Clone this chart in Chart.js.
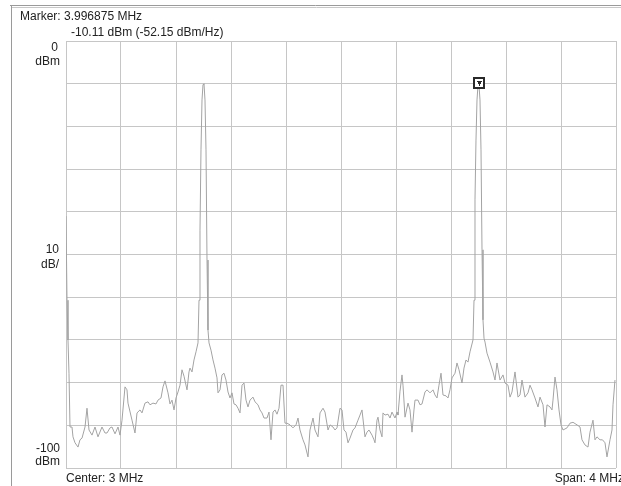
<!DOCTYPE html>
<html>
<head>
<meta charset="utf-8">
<script src="https://cdn.jsdelivr.net/npm/chart.js@4.4.1/dist/chart.umd.min.js"></script>
<style>
  html, body { margin: 0; padding: 0; background: #ffffff; }
  canvas { display: block; }
</style>
</head>
<body>
<canvas id="spectrum" width="621" height="486"></canvas>
<script>
// trace: frequency in MHz, level in dBm
const freqMHz = [
  1.0000, 1.0073, 1.0145, 1.0218, 1.0291, 1.0436, 1.0509, 1.0655, 1.0873, 1.1018,
  1.1164, 1.1382, 1.1527, 1.1673, 1.1891, 1.2109, 1.2327, 1.2618, 1.2836, 1.2982,
  1.3200, 1.3345, 1.3564, 1.3782, 1.3927, 1.4073, 1.4291, 1.4436, 1.4509, 1.4800,
  1.5018, 1.5164, 1.5382, 1.5527, 1.5745, 1.5964, 1.6109, 1.6327, 1.6545, 1.6691,
  1.6909, 1.7055, 1.7200, 1.7418, 1.7564, 1.7709, 1.7855, 1.8000, 1.8145, 1.8291,
  1.8436, 1.8582, 1.8800, 1.8945, 1.9018, 1.9164, 1.9309, 1.9455, 1.9600, 1.9673,
  1.9745, 1.9818, 1.9891, 1.9964, 2.0036, 2.0109, 2.0182, 2.0255, 2.0327, 2.0400,
  2.0545, 2.0691, 2.0836, 2.0982, 2.1055, 2.1200, 2.1345, 2.1491, 2.1636, 2.1782,
  2.1927, 2.2073, 2.2218, 2.2364, 2.2509, 2.2655, 2.2800, 2.2945, 2.3091, 2.3236,
  2.3382, 2.3600, 2.3745, 2.3964, 2.4109, 2.4255, 2.4400, 2.4618, 2.4764, 2.4909,
  2.5055, 2.5200, 2.5345, 2.5491, 2.5636, 2.5782, 2.5927, 2.6073, 2.6291, 2.6509,
  2.6727, 2.6873, 2.7018, 2.7236, 2.7382, 2.7600, 2.7745, 2.7964, 2.8109, 2.8327,
  2.8473, 2.8691, 2.8836, 2.9055, 2.9200, 2.9418, 2.9564, 2.9709, 2.9927, 3.0073,
  3.0218, 3.0364, 3.0509, 3.0655, 3.0873, 3.1018, 3.1236, 3.1382, 3.1527, 3.1745,
  3.1891, 3.2036, 3.2255, 3.2400, 3.2473, 3.2618, 3.2691, 3.2836, 3.2982, 3.3055,
  3.3200, 3.3418, 3.3564, 3.3709, 3.3927, 3.4073, 3.4145, 3.4291, 3.4436, 3.4509,
  3.4655, 3.4873, 3.5018, 3.5164, 3.5309, 3.5382, 3.5600, 3.5745, 3.5891, 3.6109,
  3.6255, 3.6473, 3.6691, 3.6836, 3.6982, 3.7127, 3.7273, 3.7418, 3.7636, 3.7782,
  3.7927, 3.8073, 3.8291, 3.8436, 3.8582, 3.8800, 3.8945, 3.9091, 3.9236, 3.9382,
  3.9600, 3.9673, 3.9745, 3.9818, 3.9891, 3.9969, 4.0036, 4.0109, 4.0182, 4.0255,
  4.0327, 4.0400, 4.0473, 4.0618, 4.0836, 4.1055, 4.1200, 4.1345, 4.1564, 4.1782,
  4.1927, 4.2145, 4.2291, 4.2436, 4.2655, 4.2873, 4.3018, 4.3164, 4.3382, 4.3600,
  4.3745, 4.3891, 4.4109, 4.4327, 4.4473, 4.4691, 4.4836, 4.4982, 4.5200, 4.5345,
  4.5418, 4.5564, 4.5709, 4.5855, 4.6000, 4.6145, 4.6436, 4.6655, 4.6873, 4.7164,
  4.7382, 4.7527, 4.7745, 4.7964, 4.8109, 4.8327, 4.8473, 4.8618, 4.8836, 4.9018,
  4.9200, 4.9345, 4.9564, 4.9709, 4.9782, 4.9927, 5.0000
];
const levelDbm = [
  -41.0, -60.7, -70.0, -77.8, -90.4, -90.4, -92.7, -94.1, -95.1, -93.4,
  -93.0, -90.4, -86.0, -91.1, -92.3, -90.4, -92.7, -90.4, -91.8, -91.8,
  -90.6, -90.4, -92.0, -90.4, -92.3, -88.8, -81.0, -81.7, -84.8, -88.8,
  -91.8, -87.1, -86.4, -87.1, -84.8, -84.5, -85.2, -84.8, -85.0, -84.1,
  -83.6, -81.0, -79.6, -82.4, -85.0, -84.1, -86.4, -83.6, -82.2, -80.6,
  -77.0, -78.5, -81.7, -77.5, -76.6, -77.5, -74.7, -72.8, -70.7, -60.7,
  -44.3, -25.5, -13.8, -10.2, -10.0, -13.8, -25.5, -51.3, -67.7, -70.7,
  -72.4, -74.7, -76.6, -78.9, -82.4, -81.7, -78.2, -77.8, -79.4, -82.2,
  -83.6, -82.4, -85.0, -85.2, -86.0, -87.1, -80.6, -80.1, -84.1, -85.7,
  -84.1, -83.4, -84.5, -85.2, -86.4, -87.1, -88.3, -88.3, -86.9, -93.4,
  -86.9, -86.4, -87.4, -86.0, -80.6, -80.6, -89.5, -89.5, -89.9, -90.6,
  -89.9, -88.3, -91.1, -93.4, -94.6, -97.4, -91.1, -88.3, -91.1, -92.7,
  -87.1, -86.0, -86.9, -91.1, -89.9, -90.4, -91.1, -90.6, -86.0, -86.4,
  -91.1, -91.6, -94.1, -93.0, -91.1, -90.6, -88.8, -87.6, -86.4, -92.7,
  -91.6, -91.1, -92.3, -93.4, -94.1, -88.8, -88.1, -91.1, -92.7, -87.1,
  -87.6, -87.4, -88.3, -86.9, -88.3, -86.9, -87.6, -82.0, -78.2, -80.6,
  -88.1, -84.8, -86.4, -91.6, -86.4, -84.1, -84.1, -85.2, -85.0, -82.2,
  -81.7, -82.4, -81.7, -82.9, -83.6, -80.6, -77.8, -82.9, -83.1, -83.6,
  -81.7, -78.9, -77.8, -75.4, -77.0, -80.1, -76.6, -74.7, -75.2, -72.8,
  -70.0, -60.7, -37.2, -23.2, -13.8, -10.11, -10.4, -13.8, -25.5, -48.9,
  -65.3, -69.6, -70.5, -73.1, -75.2, -77.5, -79.4, -75.4, -79.4, -78.2,
  -80.1, -80.6, -83.4, -82.2, -77.5, -83.4, -82.9, -79.4, -83.4, -82.4,
  -80.6, -81.7, -83.6, -85.7, -83.4, -85.2, -90.4, -85.2, -85.7, -86.4,
  -84.1, -78.7, -81.7, -86.4, -89.9, -91.1, -90.6, -89.5, -89.3, -89.9,
  -90.4, -93.4, -94.6, -95.1, -91.6, -88.8, -93.4, -92.7, -93.4, -93.4,
  -94.1, -97.4, -93.4, -91.1, -85.2, -79.4
];

const markerFreq = 3.996875;   // MHz
const markerLevel = -10.11;    // dBm
const markerLines = ['Marker: 3.996875 MHz', '-10.11 dBm (-52.15 dBm/Hz)'];
const refLabel = ['0', 'dBm'];
const scaleLabel = ['10', 'dB/'];
const bottomLabel = ['-100', 'dBm'];
const centerLabel = 'Center: 3 MHz';
const spanLabel = 'Span: 4 MHz';

const FONT = '12px "Liberation Sans", Arial, sans-serif';
const TEXT = '#222222';

const screenText = {
    id: 'screenText',
    afterDraw(chart) {
        const ctx = chart.ctx;
        const area = chart.chartArea;
        const x = chart.scales.x, y = chart.scales.y;
        ctx.save();

        // outer frame
        ctx.lineWidth = 1;
        ctx.strokeStyle = '#9a9a9a';
        ctx.beginPath();
        ctx.moveTo(10, 5.5); ctx.lineTo(621, 5.5);
        ctx.moveTo(11.5, 6); ctx.lineTo(11.5, 486);
        ctx.stroke();
        ctx.strokeStyle = '#c8c8c8';
        ctx.beginPath();
        ctx.moveTo(12, 7.5); ctx.lineTo(621, 7.5);
        ctx.stroke();

        ctx.font = FONT;
        ctx.fillStyle = TEXT;
        ctx.textBaseline = 'alphabetic';

        ctx.textAlign = 'left';
        ctx.fillText(markerLines[0], 20, 20);
        ctx.fillText(markerLines[1], 71, 36);

        ctx.textAlign = 'right';
        ctx.fillText(refLabel[0], 58, 51);
        ctx.fillText(refLabel[1], 60, 65);
        ctx.fillText(scaleLabel[0], 59, 253);
        ctx.fillText(scaleLabel[1], 59, 268);
        ctx.fillText(bottomLabel[0], 60, 452);
        ctx.fillText(bottomLabel[1], 60, 465);

        ctx.textAlign = 'left';
        ctx.fillText(centerLabel, area.left, 482);
        ctx.textAlign = 'right';
        ctx.fillText(spanLabel, 624, 482);

        // marker box on the peak
        const mx = Math.round(x.getPixelForValue(markerFreq)) + 1;
        const my = Math.round(y.getPixelForValue(markerLevel)) - 1;
        ctx.fillStyle = '#ffffff';
        ctx.fillRect(mx - 5, my - 5, 10, 10);
        ctx.strokeStyle = '#2a2a2a';
        ctx.lineWidth = 2;
        ctx.strokeRect(mx - 5, my - 5, 10, 10);
        ctx.fillStyle = '#2a2a2a';
        ctx.fillRect(mx - 2, my - 2, 5, 1);
        ctx.fillRect(mx - 1, my - 1, 3, 2);
        ctx.fillRect(mx, my + 1, 1, 2);
        ctx.restore();
    }
};

new Chart(document.getElementById('spectrum'), {
    type: 'scatter',
    data: {
        datasets: [{
            data: freqMHz.map((f, i) => ({ x: f, y: levelDbm[i] })),
            showLine: true,
            borderColor: '#a3a3a3',
            borderWidth: 1,
            pointRadius: 0,
            tension: 0
        }]
    },
    options: {
        responsive: false,
        animation: false,
        layout: { padding: { left: 66, right: 5, top: 41, bottom: 18 } },
        plugins: { legend: { display: false }, tooltip: { enabled: false } },
        scales: {
            x: {
                type: 'linear', min: 1, max: 5,
                ticks: { display: false, stepSize: 0.4 },
                grid: { color: '#c6c6c6', lineWidth: 1, drawTicks: false },
                border: { display: false }
            },
            y: {
                type: 'linear', min: -100, max: 0,
                ticks: { display: false, stepSize: 10 },
                grid: { color: '#c6c6c6', lineWidth: 1, drawTicks: false },
                border: { display: false }
            }
        }
    },
    plugins: [screenText]
});
</script>
</body>
</html>
